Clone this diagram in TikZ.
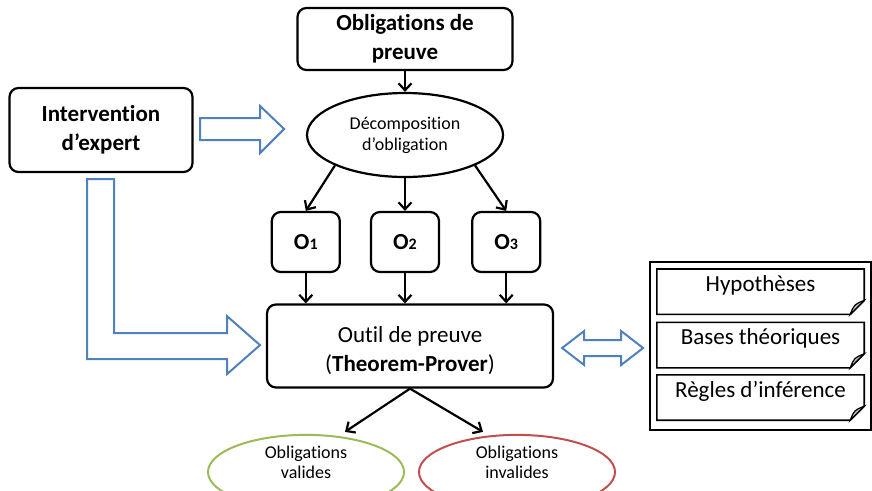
\documentclass[tikz,border=0pt]{standalone}
\usepackage{fontspec}
\setmainfont{Carlito}[Ligatures=NoCommon]
\usepackage{tikz}
\usetikzlibrary{arrows.meta, shapes.geometric, positioning}
\definecolor{officeblue}{RGB}{79,129,189}
\definecolor{officegreen}{RGB}{155,187,89}
\definecolor{officered}{RGB}{192,80,77}
\tikzstyle{process} = [rectangle, rounded corners=9pt, draw=black, line width=2.2pt, align=center, inner sep=0pt, font=\fontsize{23}{29}\selectfont\bfseries]
\tikzstyle{tool} = [process, font=\fontsize{23}{29}\selectfont]
\tikzstyle{decomp} = [ellipse, draw=black, line width=2.2pt, align=center, inner sep=0pt, minimum width=196pt, minimum height=84pt, font=\fontsize{18}{21}\selectfont]
\tikzstyle{result} = [ellipse, line width=2pt, align=center, inner sep=0pt, minimum width=196pt, minimum height=62pt, font=\fontsize{18}{20}\selectfont]
\tikzstyle{doc} = [rectangle, inner sep=0pt, minimum width=207pt, text height=22pt, text depth=23pt, font=\fontsize{23}{23}\selectfont]
\tikzstyle{arrow} = [line width=2.2pt, -{Straight Barb[length=7pt,width=13pt]}]
\tikzstyle{bigarrow} = [draw=officeblue, line width=2pt, fill=white, line join=miter]
\newcommand{\obl}[1]{O{\fontsize{16}{16}\selectfont #1}}

\begin{document}
\begin{tikzpicture}[x=1pt, y=-1pt]
\useasboundingbox (0,0) rectangle (872,490);
\clip (0,0) rectangle (872,490);
\node (oblig) [process, minimum width=215pt, minimum height=62pt] at (405,39) {Obligations de\\preuve};
\node (expert) [process, minimum width=183pt, minimum height=84pt] at (101,130) {Intervention\\d’expert};
\node (decomp) [decomp] at (405,135) {Décomposition\\d’obligation};
\node (o2) [process, minimum width=68pt, minimum height=60pt] at (405,242) {\obl{2}};
\node (o1) [process, minimum width=68pt, minimum height=60pt, left=29pt of o2] {\obl{1}};
\node (o3) [process, minimum width=68pt, minimum height=60pt, right=31pt of o2] {\obl{3}};
\node (outil) [tool, minimum width=286pt, minimum height=83pt] at (410,346) {\rule{0pt}{25pt}Outil de preuve\\(\textbf{Theorem-Prover})};
\node (valides) [result, draw=officegreen] at (306,472) {Obligations\\valides\\\mbox{}};
\node (invalides) [result, draw=officered] at (517,472) {Obligations\\invalides\\\mbox{}};
% base de connaissances
\node (kb) [rectangle, draw=black, line width=2pt, minimum width=221pt, minimum height=168pt] at (760.5,346) {};
\node (hyp) [doc, below=8pt of kb.north] {Hypothèses};
\node (bases) [doc, below=8pt of hyp] {Bases théoriques};
\node (regles) [doc, below=7pt of bases] {Règles d’inférence};
\foreach \d in {hyp,bases,regles}{
  \draw[line width=1.6pt] (\d.north west) -- (\d.north east) -- ([yshift=14pt]\d.south east) -- ([xshift=-14pt]\d.south east) -- (\d.south west) -- cycle;
  \filldraw[fill=gray!55, line width=1.2pt] ([yshift=14pt]\d.south east) -- ([xshift=-14pt]\d.south east) .. controls ([shift={(-10pt,10pt)}]\d.south east) .. ([yshift=14pt]\d.south east) -- cycle;
}
\draw [arrow] (oblig) -- (decomp);
\draw [arrow] (decomp.south west) -- (o1.north);
\draw [arrow] (decomp) -- (o2);
\draw [arrow] (decomp.south east) -- (o3.north);
\foreach \o in {o1,o2,o3}
  \draw [arrow] (\o.south) -- (\o.south |- outil.north);
\draw [arrow] (outil.south) -- ([xshift=39pt,yshift=2pt]valides.north);
\draw [arrow] (outil.south) -- ([xshift=-34pt,yshift=2pt]invalides.north);
% fleches creuses
\draw [bigarrow] ([shift={(6.5,-12)}]expert.east) -- ++(60,0) -- ++(0,-12) -- ++(24,23) -- ++(-24,24) -- ++(0,-13) -- ++(-60,0) -- cycle;
\draw [bigarrow] ([shift={(-14,6)}]expert.south) -- ++(27,0) -- ++(0,154) -- ++(113,0) -- ++(0,-17) -- ++(33,29) -- ++(-33,29) -- ++(0,-15) -- ++(-140,0) -- cycle;
\draw [bigarrow] ([shift={(8,2)}]outil.east) -- ++(22,-17) -- ++(0,9) -- ++(37,0) -- ++(0,-9) -- ++(22,17) -- ++(-22,17) -- ++(0,-9) -- ++(-37,0) -- ++(0,9) -- cycle;
\end{tikzpicture}
\end{document}
